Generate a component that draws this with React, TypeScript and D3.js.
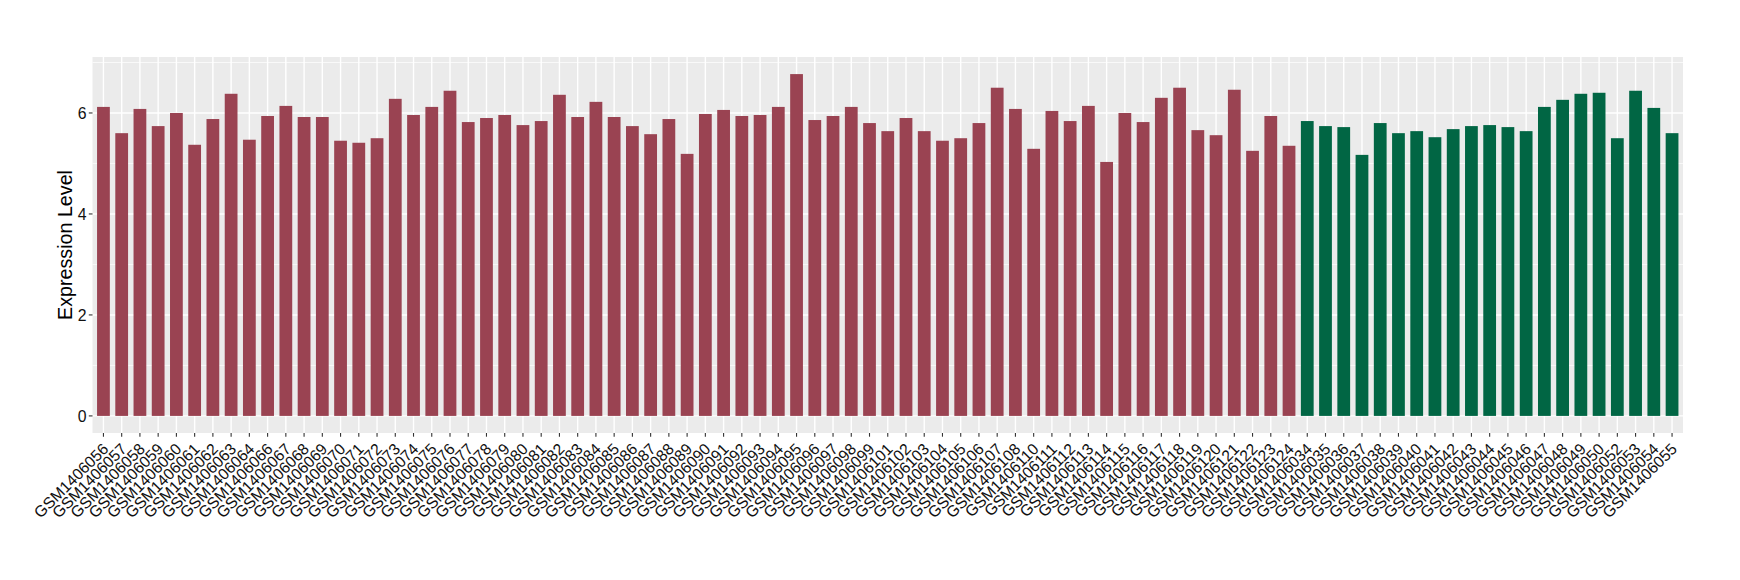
import React from "react";
import * as d3 from "d3";

const groupA: string[] = [
  "GSM1406056","GSM1406057","GSM1406058","GSM1406059","GSM1406060","GSM1406061","GSM1406062","GSM1406063","GSM1406064",
  "GSM1406066","GSM1406067","GSM1406068","GSM1406069","GSM1406070","GSM1406071","GSM1406072","GSM1406073","GSM1406074",
  "GSM1406075","GSM1406076","GSM1406077","GSM1406078","GSM1406079","GSM1406080","GSM1406081","GSM1406082","GSM1406083",
  "GSM1406084","GSM1406085","GSM1406086","GSM1406087","GSM1406088","GSM1406089","GSM1406090","GSM1406091","GSM1406092",
  "GSM1406093","GSM1406094","GSM1406095","GSM1406096","GSM1406097","GSM1406098","GSM1406099","GSM1406101","GSM1406102",
  "GSM1406103","GSM1406104","GSM1406105","GSM1406106","GSM1406107","GSM1406108","GSM1406110","GSM1406111","GSM1406112",
  "GSM1406113","GSM1406114","GSM1406115","GSM1406116","GSM1406117","GSM1406118","GSM1406119","GSM1406120","GSM1406121",
  "GSM1406122","GSM1406123","GSM1406124",
];
const valuesA: number[] = [
  6.12, 5.60, 6.08, 5.74, 6.00, 5.37, 5.88, 6.38, 5.47,
  5.94, 6.14, 5.92, 5.92, 5.45, 5.41, 5.50, 6.28, 5.96,
  6.12, 6.44, 5.82, 5.90, 5.96, 5.76, 5.84, 6.36, 5.92,
  6.22, 5.92, 5.74, 5.58, 5.88, 5.19, 5.98, 6.06, 5.94,
  5.96, 6.12, 6.77, 5.86, 5.94, 6.12, 5.80, 5.64, 5.90,
  5.64, 5.45, 5.50, 5.80, 6.50, 6.08, 5.29, 6.04, 5.84,
  6.14, 5.03, 6.00, 5.82, 6.30, 6.50, 5.66, 5.56, 6.46,
  5.25, 5.94, 5.35,
];
const groupB: string[] = [
  "GSM1406034","GSM1406035","GSM1406036","GSM1406037","GSM1406038","GSM1406039","GSM1406040","GSM1406041","GSM1406042",
  "GSM1406043","GSM1406044","GSM1406045","GSM1406046","GSM1406047","GSM1406048","GSM1406049","GSM1406050","GSM1406052",
  "GSM1406053","GSM1406054","GSM1406055",
];
const valuesB: number[] = [
  5.84, 5.74, 5.72, 5.17, 5.80, 5.60, 5.64, 5.52, 5.68,
  5.74, 5.76, 5.72, 5.64, 6.12, 6.26, 6.38, 6.40, 5.50,
  6.44, 6.10, 5.60,
];
const yMajorTicks: number[] = [0, 2, 4, 6];
const yMinorTicks: number[] = [1, 3, 5, 7];
const colorA = "#9A4352";
const colorB = "#016644";
const yTitle = "Expression Level";

type Row = { name: string; value: number; color: string };
const rows: Row[] = [
  ...groupA.map((n, i) => ({ name: n, value: valuesA[i], color: colorA })),
  ...groupB.map((n, i) => ({ name: n, value: valuesB[i], color: colorB })),
];

export default function App() {
  const W = 1740, H = 580;
  const left = 92.5, right = 1683, top = 57, bottom = 433;
  const n = rows.length;
  const maxV = d3.max(rows, (d) => d.value) as number;
  const pad = maxV * 0.05;
  const y = d3.scaleLinear().domain([-pad, maxV + pad]).range([bottom, top]);
  const step = (right - left) / (n - 1 + 1.2);
  const x = d3
    .scaleBand<string>()
    .domain(rows.map((d) => d.name))
    .range([left + 0.6 * step - step / 2, right - 0.6 * step + step / 2])
    .paddingInner(0)
    .paddingOuter(0);
  const bw = step * 0.7;
  const cx = (name: string) => (x(name) as number) + x.bandwidth() / 2;
  const font = "'Liberation Sans', Arial, Helvetica, sans-serif";

  return (
    <svg width={W} height={H} style={{ display: "block", margin: "-8px" }} fontFamily={font}>
      <rect x={0} y={0} width={W} height={H} fill="#FFFFFF" />
      <rect x={left} y={top} width={right - left} height={bottom - top} fill="#EBEBEB" />
      {yMinorTicks.map((t) => (
        <line key={"mn" + t} x1={left} x2={right} y1={y(t)} y2={y(t)} stroke="#FFFFFF" strokeWidth={0.7} />
      ))}
      {yMajorTicks.map((t) => (
        <line key={"mj" + t} x1={left} x2={right} y1={y(t)} y2={y(t)} stroke="#FFFFFF" strokeWidth={1.4} />
      ))}
      {rows.map((d) => (
        <line key={"vx" + d.name} x1={cx(d.name)} x2={cx(d.name)} y1={top} y2={bottom} stroke="#FFFFFF" strokeWidth={1.4} />
      ))}
      {rows.map((d) => (
        <rect
          key={"b" + d.name}
          x={cx(d.name) - bw / 2}
          y={y(d.value)}
          width={bw}
          height={y(0) - y(d.value)}
          fill={d.color}
        />
      ))}
      {yMajorTicks.map((t) => (
        <g key={"yt" + t}>
          <line x1={left - 3.7} x2={left} y1={y(t)} y2={y(t)} stroke="#333333" strokeWidth={1.1} />
          <text x={left - 6} y={y(t)} dy="0.36em" textAnchor="end" fontSize={15.8} fill="#111111">
            {t}
          </text>
        </g>
      ))}
      {rows.map((d) => (
        <g key={"xt" + d.name}>
          <line x1={cx(d.name)} x2={cx(d.name)} y1={bottom} y2={bottom + 3.7} stroke="#333333" strokeWidth={1.1} />
          <text
            transform={`translate(${cx(d.name) + 6},${bottom + 17}) rotate(-45)`}
            textAnchor="end"
            fontSize={15.8}
            fill="#111111"
          >
            {d.name}
          </text>
        </g>
      ))}
      <text
        transform={`translate(${72},${(top + bottom) / 2}) rotate(-90)`}
        textAnchor="middle"
        fontSize={19.7}
        fill="#000000"
      >
        {yTitle}
      </text>
    </svg>
  );
}
